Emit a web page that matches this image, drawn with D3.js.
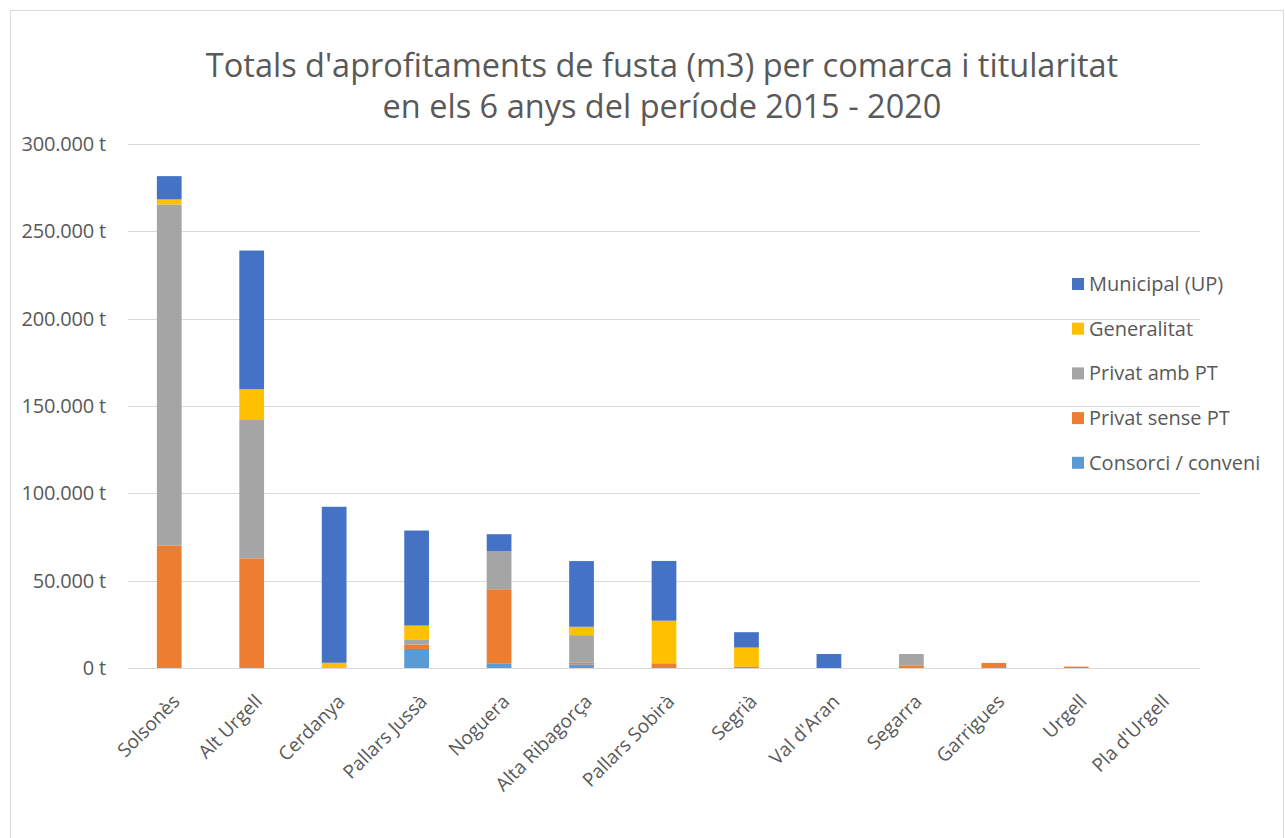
<!DOCTYPE html>
<html>
<head>
<meta charset="utf-8">
<script src="https://cdn.jsdelivr.net/npm/d3@7"></script>
<style>
  body { margin: 0; background: #fff; }
  text { font-family: "Open Sans", sans-serif; fill: #595959; }
</style>
</head>
<body>
<div id="app"></div>
<script>
const comarques = ['Solsonès', 'Alt Urgell', 'Cerdanya', 'Pallars Jussà', 'Noguera', 'Alta Ribagorça',
    'Pallars Sobirà', 'Segrià', "Val d'Aran", 'Segarra', 'Garrigues', 'Urgell', "Pla d'Urgell"]

const consorci      = [0,     0,     0,     10900, 2700,  2100,  0,     0,     0,    0,    0,    0,   0]
const privatSense   = [70000, 62800, 0,     2500,  42400, 900,   2700,  800,   0,    1500, 2900, 800, 0]
const privatAmb     = [195400,79200, 0,     2700,  21900, 15800, 0,     0,     0,    6500, 0,    0,   0]
const generalitat   = [2900,  17600, 3000,  8200,  0,     4800,  24400, 10900, 0,    0,    0,    0,   0]
const municipal     = [13300, 79400, 89300, 54400, 9600,  37600, 34200, 8800,  8000, 0,    0,    0,   0]

const series = ['Consorci / conveni', 'Privat sense PT', 'Privat amb PT', 'Generalitat', 'Municipal (UP)']
const colors = ['#5B9BD5', '#ED7D31', '#A5A5A5', '#FFC000', '#4472C4']
const yTicks = [0, 50000, 100000, 150000, 200000, 250000, 300000]

const titol = ["Totals d'aprofitaments de fusta (m3) per comarca i titularitat", 'en els 6 anys del període 2015 - 2020']

const W = 1285, H = 838
const mLeft = 128, mRight = 1200, mTop = 144, mBottom = 668

const rows = comarques.map((c, i) => ({
    comarca: c,
    'Consorci / conveni': consorci[i],
    'Privat sense PT': privatSense[i],
    'Privat amb PT': privatAmb[i],
    'Generalitat': generalitat[i],
    'Municipal (UP)': municipal[i]
}))

const stacked = d3.stack().keys(series)(rows)

const svg = d3.create('svg')
    .attr('width', W)
    .attr('height', H)
    .attr('viewBox', [0, 0, W, H])

svg.append('rect')
    .attr('x', 10.5).attr('y', 10.5)
    .attr('width', W - 12).attr('height', H)
    .attr('fill', '#fff')
    .attr('stroke', '#d9d9d9')

const x = d3.scaleBand()
    .domain(comarques)
    .range([mLeft, mRight])
    .paddingInner(0.7)
    .paddingOuter(0.35)

const y = d3.scaleLinear()
    .domain([0, 300000])
    .range([mBottom, mTop])

const fmt = v => d3.format(',')(v).replace(/,/g, '.') + ' t'

// gridlines
svg.append('g')
    .selectAll('line')
    .data(yTicks)
    .join('line')
    .attr('x1', mLeft).attr('x2', mRight)
    .attr('y1', d => Math.round(y(d)) + 0.5)
    .attr('y2', d => Math.round(y(d)) + 0.5)
    .attr('stroke', '#d9d9d9')
    .attr('stroke-width', 1)

svg.append('g')
    .selectAll('text')
    .data(yTicks)
    .join('text')
    .attr('x', 106)
    .attr('y', d => y(d))
    .attr('dy', '0.35em')
    .attr('text-anchor', 'end')
    .attr('font-size', 20)
    .attr('letter-spacing', -0.2)
    .text(fmt)

// bars
svg.append('g')
    .selectAll('g')
    .data(stacked)
    .join('g')
    .attr('fill', (d, i) => colors[i])
    .selectAll('rect')
    .data(d => d)
    .join('rect')
    .attr('x', d => x(d.data.comarca))
    .attr('width', x.bandwidth())
    .attr('y', d => y(d[1]))
    .attr('height', d => y(d[0]) - y(d[1]))

// x labels
svg.append('g')
    .selectAll('text')
    .data(comarques)
    .join('text')
    .attr('transform', d => `translate(${x(d) + x.bandwidth() / 2 + 7},${mBottom + 30}) rotate(-45)`)
    .attr('text-anchor', 'end')
    .attr('dy', '0.35em')
    .attr('font-size', 19)
    .text(d => d)

// title
svg.append('g')
    .selectAll('text')
    .data(titol)
    .join('text')
    .attr('x', 662)
    .attr('y', (d, i) => 77 + i * 41)
    .attr('text-anchor', 'middle')
    .attr('font-size', 32.5)
    .text(d => d)

// legend
const legendItems = series.slice().reverse()
const legendColors = colors.slice().reverse()
const lg = svg.append('g')
    .selectAll('g')
    .data(legendItems)
    .join('g')
    .attr('transform', (d, i) => `translate(1072,${284 + i * 44.7})`)

lg.append('rect')
    .attr('x', 0).attr('y', -6)
    .attr('width', 12).attr('height', 12)
    .attr('fill', (d, i) => legendColors[i])

lg.append('text')
    .attr('x', 17)
    .attr('dy', '0.35em')
    .attr('font-size', 20)
    .text(d => d)

d3.select('#app').append(() => svg.node())
</script>
</body>
</html>
